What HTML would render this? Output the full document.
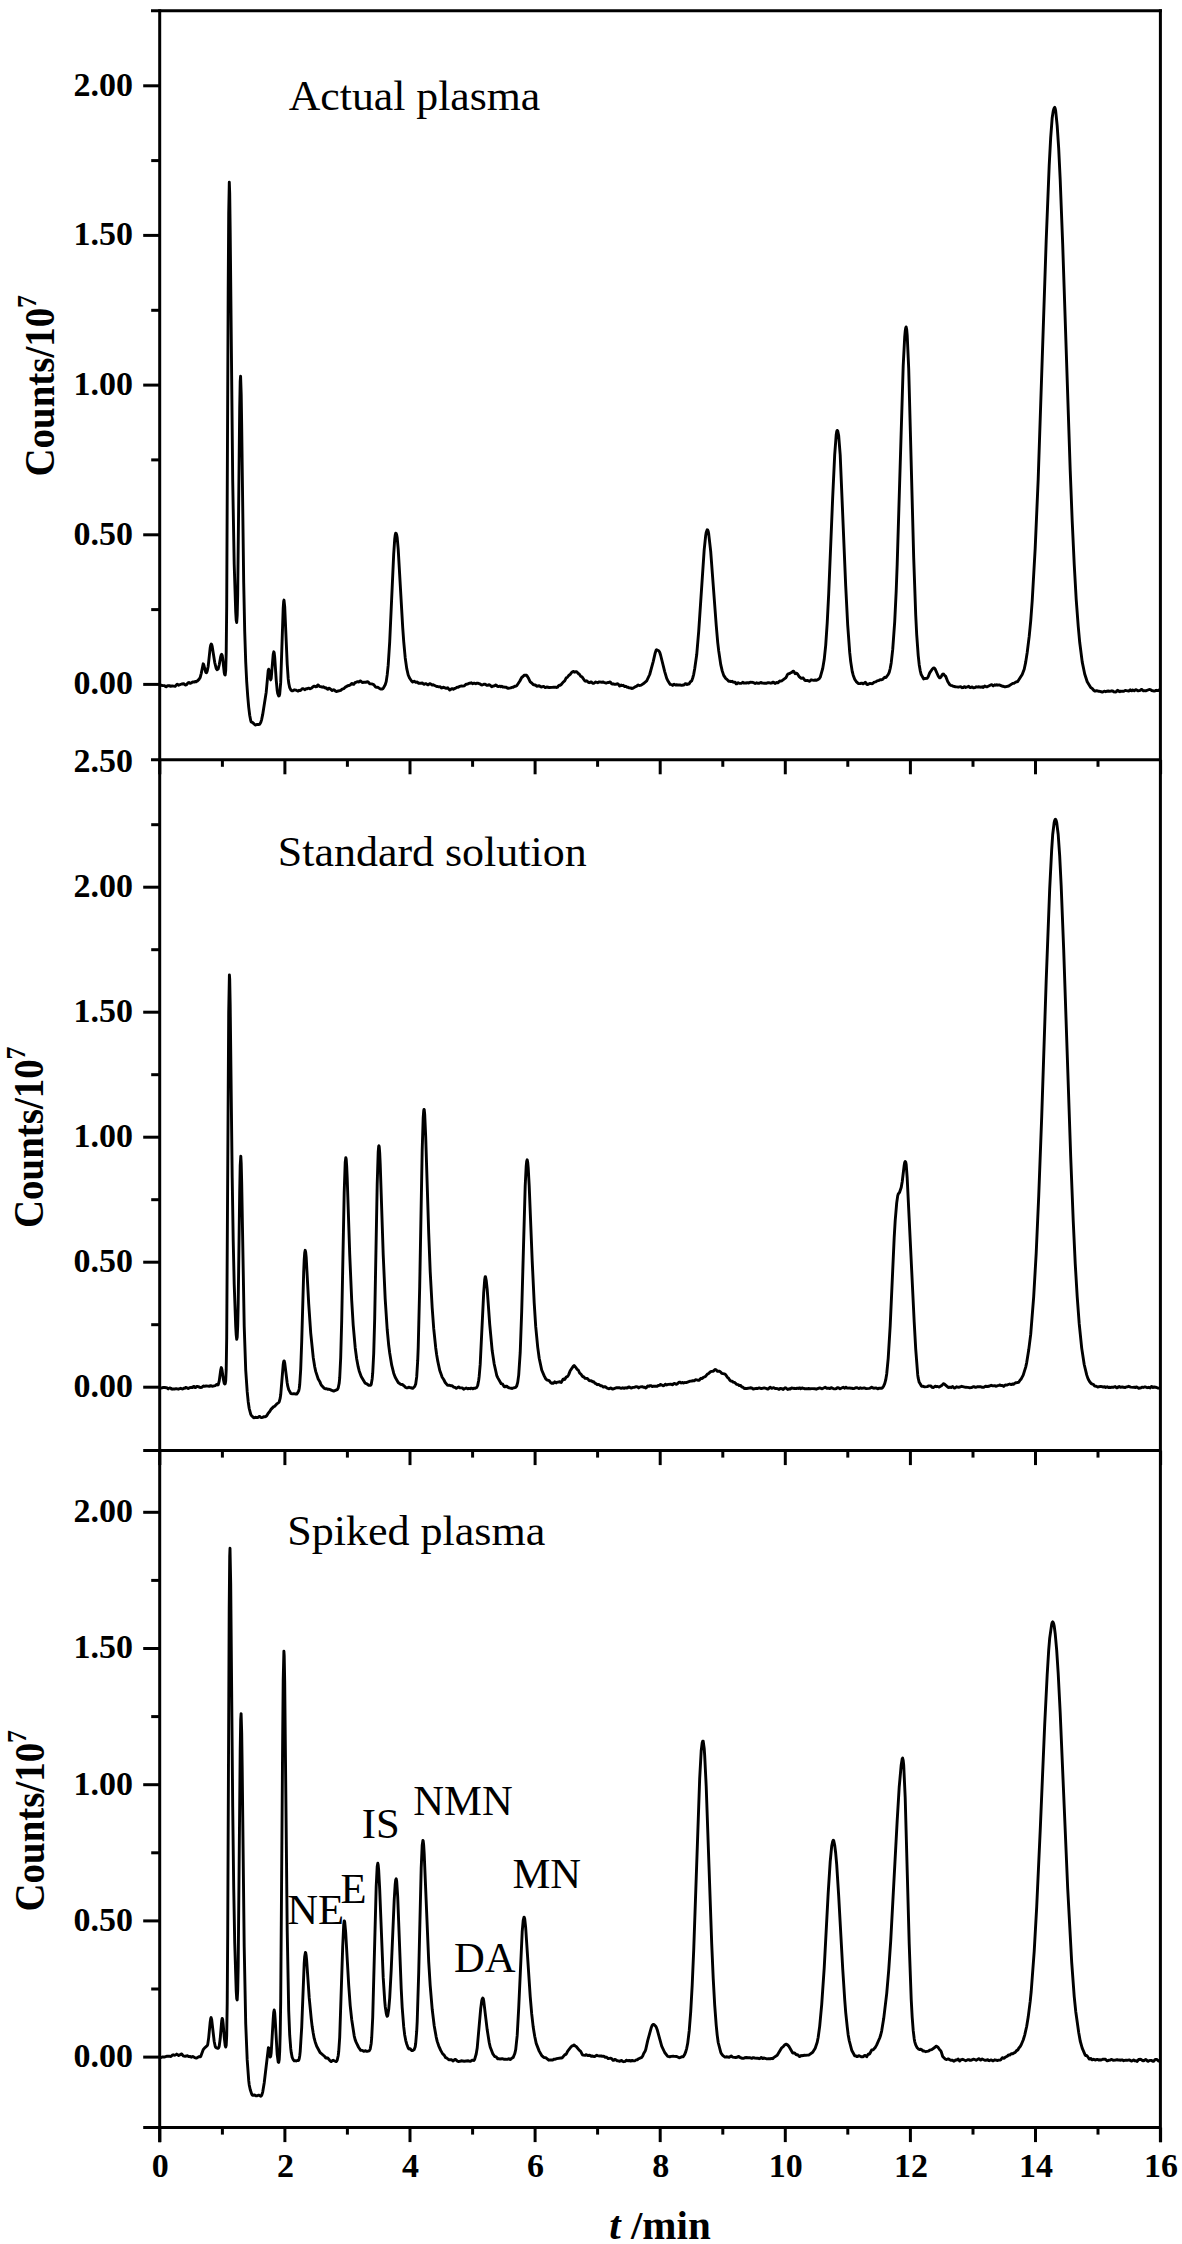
<!DOCTYPE html>
<html><head><meta charset="utf-8"><style>html,body{margin:0;padding:0;background:#fff;}svg{display:block;}</style></head>
<body>
<svg width="1182" height="2244" viewBox="0 0 1182 2244">
<rect width="100%" height="100%" fill="#fff"/>
<line x1="151.0" y1="10.7" x2="1161.9" y2="10.7" stroke="#000" stroke-width="3.0"/>
<line x1="159.7" y1="9.2" x2="159.7" y2="2142.3" stroke="#000" stroke-width="3.0"/>
<line x1="1160.4" y1="9.2" x2="1160.4" y2="2142.3" stroke="#000" stroke-width="3.0"/>
<line x1="151.0" y1="759.8" x2="1160.4" y2="759.8" stroke="#000" stroke-width="3.0"/>
<line x1="143.2" y1="1450.6" x2="1160.4" y2="1450.6" stroke="#000" stroke-width="3.0"/>
<line x1="143.2" y1="2127.6" x2="1160.4" y2="2127.6" stroke="#000" stroke-width="3.0"/>
<line x1="159.8" y1="759.8" x2="159.8" y2="774.3" stroke="#000" stroke-width="3.0"/>
<line x1="222.4" y1="759.8" x2="222.4" y2="766.8" stroke="#000" stroke-width="3.0"/>
<line x1="284.9" y1="759.8" x2="284.9" y2="774.3" stroke="#000" stroke-width="3.0"/>
<line x1="347.4" y1="759.8" x2="347.4" y2="766.8" stroke="#000" stroke-width="3.0"/>
<line x1="410.0" y1="759.8" x2="410.0" y2="774.3" stroke="#000" stroke-width="3.0"/>
<line x1="472.6" y1="759.8" x2="472.6" y2="766.8" stroke="#000" stroke-width="3.0"/>
<line x1="535.1" y1="759.8" x2="535.1" y2="774.3" stroke="#000" stroke-width="3.0"/>
<line x1="597.6" y1="759.8" x2="597.6" y2="766.8" stroke="#000" stroke-width="3.0"/>
<line x1="660.2" y1="759.8" x2="660.2" y2="774.3" stroke="#000" stroke-width="3.0"/>
<line x1="722.8" y1="759.8" x2="722.8" y2="766.8" stroke="#000" stroke-width="3.0"/>
<line x1="785.3" y1="759.8" x2="785.3" y2="774.3" stroke="#000" stroke-width="3.0"/>
<line x1="847.8" y1="759.8" x2="847.8" y2="766.8" stroke="#000" stroke-width="3.0"/>
<line x1="910.4" y1="759.8" x2="910.4" y2="774.3" stroke="#000" stroke-width="3.0"/>
<line x1="973.0" y1="759.8" x2="973.0" y2="766.8" stroke="#000" stroke-width="3.0"/>
<line x1="1035.5" y1="759.8" x2="1035.5" y2="774.3" stroke="#000" stroke-width="3.0"/>
<line x1="1098.0" y1="759.8" x2="1098.0" y2="766.8" stroke="#000" stroke-width="3.0"/>
<line x1="1160.6" y1="759.8" x2="1160.6" y2="774.3" stroke="#000" stroke-width="3.0"/>
<line x1="159.8" y1="1450.6" x2="159.8" y2="1465.1" stroke="#000" stroke-width="3.0"/>
<line x1="222.4" y1="1450.6" x2="222.4" y2="1457.6" stroke="#000" stroke-width="3.0"/>
<line x1="284.9" y1="1450.6" x2="284.9" y2="1465.1" stroke="#000" stroke-width="3.0"/>
<line x1="347.4" y1="1450.6" x2="347.4" y2="1457.6" stroke="#000" stroke-width="3.0"/>
<line x1="410.0" y1="1450.6" x2="410.0" y2="1465.1" stroke="#000" stroke-width="3.0"/>
<line x1="472.6" y1="1450.6" x2="472.6" y2="1457.6" stroke="#000" stroke-width="3.0"/>
<line x1="535.1" y1="1450.6" x2="535.1" y2="1465.1" stroke="#000" stroke-width="3.0"/>
<line x1="597.6" y1="1450.6" x2="597.6" y2="1457.6" stroke="#000" stroke-width="3.0"/>
<line x1="660.2" y1="1450.6" x2="660.2" y2="1465.1" stroke="#000" stroke-width="3.0"/>
<line x1="722.8" y1="1450.6" x2="722.8" y2="1457.6" stroke="#000" stroke-width="3.0"/>
<line x1="785.3" y1="1450.6" x2="785.3" y2="1465.1" stroke="#000" stroke-width="3.0"/>
<line x1="847.8" y1="1450.6" x2="847.8" y2="1457.6" stroke="#000" stroke-width="3.0"/>
<line x1="910.4" y1="1450.6" x2="910.4" y2="1465.1" stroke="#000" stroke-width="3.0"/>
<line x1="973.0" y1="1450.6" x2="973.0" y2="1457.6" stroke="#000" stroke-width="3.0"/>
<line x1="1035.5" y1="1450.6" x2="1035.5" y2="1465.1" stroke="#000" stroke-width="3.0"/>
<line x1="1098.0" y1="1450.6" x2="1098.0" y2="1457.6" stroke="#000" stroke-width="3.0"/>
<line x1="1160.6" y1="1450.6" x2="1160.6" y2="1465.1" stroke="#000" stroke-width="3.0"/>
<line x1="159.8" y1="2127.6" x2="159.8" y2="2142.1" stroke="#000" stroke-width="3.0"/>
<line x1="222.4" y1="2127.6" x2="222.4" y2="2134.6" stroke="#000" stroke-width="3.0"/>
<line x1="284.9" y1="2127.6" x2="284.9" y2="2142.1" stroke="#000" stroke-width="3.0"/>
<line x1="347.4" y1="2127.6" x2="347.4" y2="2134.6" stroke="#000" stroke-width="3.0"/>
<line x1="410.0" y1="2127.6" x2="410.0" y2="2142.1" stroke="#000" stroke-width="3.0"/>
<line x1="472.6" y1="2127.6" x2="472.6" y2="2134.6" stroke="#000" stroke-width="3.0"/>
<line x1="535.1" y1="2127.6" x2="535.1" y2="2142.1" stroke="#000" stroke-width="3.0"/>
<line x1="597.6" y1="2127.6" x2="597.6" y2="2134.6" stroke="#000" stroke-width="3.0"/>
<line x1="660.2" y1="2127.6" x2="660.2" y2="2142.1" stroke="#000" stroke-width="3.0"/>
<line x1="722.8" y1="2127.6" x2="722.8" y2="2134.6" stroke="#000" stroke-width="3.0"/>
<line x1="785.3" y1="2127.6" x2="785.3" y2="2142.1" stroke="#000" stroke-width="3.0"/>
<line x1="847.8" y1="2127.6" x2="847.8" y2="2134.6" stroke="#000" stroke-width="3.0"/>
<line x1="910.4" y1="2127.6" x2="910.4" y2="2142.1" stroke="#000" stroke-width="3.0"/>
<line x1="973.0" y1="2127.6" x2="973.0" y2="2134.6" stroke="#000" stroke-width="3.0"/>
<line x1="1035.5" y1="2127.6" x2="1035.5" y2="2142.1" stroke="#000" stroke-width="3.0"/>
<line x1="1098.0" y1="2127.6" x2="1098.0" y2="2134.6" stroke="#000" stroke-width="3.0"/>
<line x1="1160.6" y1="2127.6" x2="1160.6" y2="2142.1" stroke="#000" stroke-width="3.0"/>
<line x1="143.2" y1="684.4" x2="159.7" y2="684.4" stroke="#000" stroke-width="3.0"/>
<line x1="151.2" y1="609.6" x2="159.7" y2="609.6" stroke="#000" stroke-width="3.0"/>
<line x1="143.2" y1="534.8" x2="159.7" y2="534.8" stroke="#000" stroke-width="3.0"/>
<line x1="151.2" y1="459.9" x2="159.7" y2="459.9" stroke="#000" stroke-width="3.0"/>
<line x1="143.2" y1="385.1" x2="159.7" y2="385.1" stroke="#000" stroke-width="3.0"/>
<line x1="151.2" y1="310.3" x2="159.7" y2="310.3" stroke="#000" stroke-width="3.0"/>
<line x1="143.2" y1="235.4" x2="159.7" y2="235.4" stroke="#000" stroke-width="3.0"/>
<line x1="151.2" y1="160.6" x2="159.7" y2="160.6" stroke="#000" stroke-width="3.0"/>
<line x1="143.2" y1="85.8" x2="159.7" y2="85.8" stroke="#000" stroke-width="3.0"/>
<line x1="143.2" y1="1387.2" x2="159.7" y2="1387.2" stroke="#000" stroke-width="3.0"/>
<line x1="151.2" y1="1324.7" x2="159.7" y2="1324.7" stroke="#000" stroke-width="3.0"/>
<line x1="143.2" y1="1262.2" x2="159.7" y2="1262.2" stroke="#000" stroke-width="3.0"/>
<line x1="151.2" y1="1199.7" x2="159.7" y2="1199.7" stroke="#000" stroke-width="3.0"/>
<line x1="143.2" y1="1137.2" x2="159.7" y2="1137.2" stroke="#000" stroke-width="3.0"/>
<line x1="151.2" y1="1074.7" x2="159.7" y2="1074.7" stroke="#000" stroke-width="3.0"/>
<line x1="143.2" y1="1012.2" x2="159.7" y2="1012.2" stroke="#000" stroke-width="3.0"/>
<line x1="151.2" y1="949.7" x2="159.7" y2="949.7" stroke="#000" stroke-width="3.0"/>
<line x1="143.2" y1="887.2" x2="159.7" y2="887.2" stroke="#000" stroke-width="3.0"/>
<line x1="151.2" y1="824.7" x2="159.7" y2="824.7" stroke="#000" stroke-width="3.0"/>
<line x1="143.2" y1="2057.1" x2="159.7" y2="2057.1" stroke="#000" stroke-width="3.0"/>
<line x1="151.2" y1="1989.0" x2="159.7" y2="1989.0" stroke="#000" stroke-width="3.0"/>
<line x1="143.2" y1="1920.9" x2="159.7" y2="1920.9" stroke="#000" stroke-width="3.0"/>
<line x1="151.2" y1="1852.8" x2="159.7" y2="1852.8" stroke="#000" stroke-width="3.0"/>
<line x1="143.2" y1="1784.7" x2="159.7" y2="1784.7" stroke="#000" stroke-width="3.0"/>
<line x1="151.2" y1="1716.6" x2="159.7" y2="1716.6" stroke="#000" stroke-width="3.0"/>
<line x1="143.2" y1="1648.5" x2="159.7" y2="1648.5" stroke="#000" stroke-width="3.0"/>
<line x1="151.2" y1="1580.4" x2="159.7" y2="1580.4" stroke="#000" stroke-width="3.0"/>
<line x1="143.2" y1="1512.3" x2="159.7" y2="1512.3" stroke="#000" stroke-width="3.0"/>
<path d="M159.7,686.5 L161.2,685.2 L162.7,685.6 L164.2,685.6 L164.7,685.7 L165.7,686.7 L166.2,686.8 L167.2,685.9 L168.2,685.6 L169.2,685.6 L170.7,686.4 L172.2,685.9 L175.2,686.4 L176.7,684.6 L177.2,684.3 L178.7,685.2 L181.7,684.0 L183.7,683.7 L185.2,684.9 L185.7,685.1 L186.7,684.5 L188.2,682.6 L189.2,682.5 L190.2,683.4 L191.2,683.0 L192.7,681.9 L194.2,682.0 L195.7,681.5 L196.2,681.7 L197.2,681.1 L199.2,679.1 L200.2,677.4 L201.2,673.6 L203.2,663.8 L203.7,664.6 L205.7,672.2 L206.2,672.7 L206.7,672.4 L207.2,671.1 L208.2,666.2 L210.2,647.7 L210.7,645.1 L211.2,644.1 L211.7,644.6 L212.2,646.4 L214.7,662.3 L216.2,668.5 L217.2,669.7 L218.2,668.8 L219.2,665.0 L220.7,656.6 L221.2,654.9 L221.7,654.3 L222.2,655.3 L222.7,658.7 L224.2,672.4 L224.7,674.6 L225.2,674.9 L225.7,670.5 L226.2,652.9 L226.7,606.2 L228.2,289.1 L228.7,213.8 L229.3,182.2 L229.7,193.1 L230.2,232.2 L232.7,480.6 L234.2,564.3 L235.7,611.6 L236.2,620.1 L236.7,622.5 L237.2,615.4 L237.7,594.3 L239.7,407.6 L240.2,381.3 L240.6,376.2 L241.2,394.3 L241.7,426.9 L243.7,582.7 L244.7,631.3 L245.7,661.8 L246.7,681.6 L247.7,695.9 L248.7,707.1 L249.7,715.3 L250.7,720.6 L251.2,721.9 L252.7,722.6 L255.2,725.0 L255.7,725.0 L256.7,724.5 L258.7,724.5 L259.7,724.2 L260.7,722.6 L261.7,719.3 L262.7,714.4 L266.2,692.2 L268.2,670.6 L268.7,669.2 L269.2,671.1 L270.2,678.3 L270.7,679.9 L271.2,678.3 L273.2,654.4 L273.8,651.8 L274.2,652.8 L274.7,657.1 L276.2,679.8 L277.2,690.6 L277.7,693.4 L278.7,696.0 L279.2,695.8 L279.7,694.1 L280.7,682.4 L283.2,608.1 L283.7,601.1 L284.0,600.1 L284.7,606.6 L287.2,664.0 L288.2,678.7 L288.7,682.9 L289.7,687.7 L290.7,689.7 L291.7,690.8 L292.7,690.9 L294.2,689.8 L296.2,690.2 L297.7,691.0 L298.2,691.0 L299.2,690.3 L300.2,690.5 L300.7,690.4 L302.2,688.6 L303.2,688.6 L304.7,689.7 L306.2,688.7 L307.2,688.8 L308.2,688.2 L308.7,688.2 L310.2,688.8 L311.2,688.3 L313.2,686.6 L314.2,686.2 L315.2,686.5 L315.7,686.9 L316.7,686.7 L317.7,685.1 L318.2,684.9 L319.7,686.6 L321.2,686.7 L322.2,687.2 L323.2,686.7 L324.7,687.7 L325.2,687.6 L326.2,687.9 L326.7,688.8 L327.7,689.3 L328.2,688.6 L329.2,688.2 L332.2,690.5 L333.7,689.7 L334.7,690.3 L335.2,691.0 L336.2,691.5 L340.7,690.4 L342.2,689.1 L343.7,688.7 L345.7,686.7 L346.2,686.7 L347.7,685.7 L349.2,685.5 L350.2,685.0 L351.7,683.4 L352.2,683.6 L353.2,684.4 L353.7,684.4 L355.2,682.4 L356.2,682.3 L357.2,681.7 L358.7,682.0 L360.2,680.9 L360.7,681.1 L362.2,682.4 L362.7,682.5 L364.2,682.1 L365.7,682.4 L366.7,681.9 L367.7,681.7 L368.2,682.0 L369.7,683.7 L371.7,683.9 L373.7,684.6 L375.7,687.2 L376.7,687.4 L377.7,687.2 L380.2,688.9 L380.7,689.0 L382.2,689.0 L383.2,688.4 L385.2,684.7 L386.2,681.6 L387.2,674.9 L388.2,665.2 L389.7,641.9 L393.7,554.0 L394.7,539.3 L395.2,535.2 L395.7,533.2 L396.2,533.5 L396.7,534.9 L397.2,537.8 L398.2,549.2 L402.7,627.4 L403.7,641.4 L405.2,657.7 L406.7,668.4 L408.2,675.0 L409.7,678.3 L411.7,681.2 L412.7,682.0 L414.2,681.2 L415.7,682.3 L417.2,682.0 L418.7,683.4 L419.7,683.1 L421.2,683.3 L422.2,682.9 L423.7,684.3 L424.2,684.3 L425.2,683.6 L425.7,683.6 L427.7,684.8 L428.2,684.8 L429.7,683.7 L430.2,683.6 L432.2,685.1 L433.2,684.7 L436.7,686.5 L437.7,686.5 L438.7,686.9 L440.2,686.8 L441.2,687.8 L441.7,688.0 L443.2,687.2 L446.2,688.3 L447.7,687.8 L449.7,690.1 L451.7,688.7 L452.7,688.8 L453.2,689.3 L453.7,689.1 L454.7,688.5 L455.7,688.2 L457.2,687.1 L458.2,687.2 L459.7,686.4 L461.7,685.9 L462.7,686.1 L464.2,685.9 L466.2,684.2 L467.7,684.1 L469.2,683.2 L469.7,683.3 L471.2,682.8 L472.7,683.7 L474.2,683.1 L475.7,683.8 L476.7,683.2 L477.7,683.1 L479.7,683.8 L481.2,684.8 L482.2,685.0 L484.2,684.2 L484.7,684.4 L485.2,684.3 L486.7,685.2 L487.7,685.3 L489.2,684.7 L490.2,685.3 L491.7,686.8 L493.2,685.9 L493.7,686.0 L494.7,685.7 L495.7,685.0 L496.2,685.1 L497.2,686.2 L498.2,686.6 L499.7,686.1 L500.7,686.7 L501.7,686.3 L502.7,687.0 L504.2,687.0 L504.7,687.2 L506.2,687.1 L507.2,688.0 L508.2,688.3 L510.7,687.9 L512.2,687.2 L513.2,687.2 L514.7,686.3 L515.7,686.2 L516.7,685.7 L519.7,681.3 L521.7,677.5 L522.7,676.8 L524.2,675.2 L524.7,675.1 L525.2,675.3 L526.2,675.1 L526.7,675.4 L528.2,677.7 L530.2,681.9 L531.7,683.0 L533.2,684.6 L534.2,685.0 L534.7,684.8 L535.2,684.9 L536.7,686.2 L539.2,685.8 L540.7,686.8 L541.2,687.0 L543.7,686.4 L545.2,687.6 L546.7,687.0 L549.2,687.5 L552.2,687.4 L553.7,687.1 L554.2,687.3 L556.2,687.2 L556.7,687.5 L557.7,687.1 L558.2,686.2 L559.2,685.3 L560.2,685.2 L561.2,684.5 L563.2,682.1 L564.7,680.9 L566.2,677.9 L567.2,677.5 L568.7,675.5 L570.2,674.3 L571.7,672.4 L572.7,671.7 L573.7,671.5 L574.2,672.1 L574.7,672.2 L575.7,671.7 L576.2,671.6 L576.7,671.8 L578.7,673.9 L579.2,674.0 L580.7,676.2 L582.2,677.1 L584.7,680.8 L585.7,681.2 L586.7,680.8 L588.2,682.1 L589.2,682.6 L589.7,682.7 L590.7,681.9 L591.2,681.9 L592.7,683.3 L593.7,683.4 L595.7,682.0 L597.7,682.7 L599.2,681.9 L601.7,682.2 L603.2,682.0 L603.7,682.4 L606.2,683.1 L607.7,682.5 L608.7,682.6 L609.7,682.0 L610.2,682.0 L611.7,683.8 L612.2,684.0 L613.2,683.8 L614.7,684.3 L615.7,684.4 L617.2,683.7 L617.7,683.8 L618.2,684.0 L619.2,685.6 L619.7,686.0 L621.2,685.1 L621.7,685.6 L623.2,685.3 L624.7,686.5 L625.7,686.3 L627.2,687.2 L628.2,687.3 L629.2,687.9 L630.7,688.0 L632.2,688.5 L633.2,688.1 L635.2,686.8 L636.7,686.2 L637.7,685.2 L638.2,685.0 L639.2,685.5 L641.2,685.1 L643.2,683.8 L646.7,680.9 L649.7,674.5 L653.2,661.6 L655.2,652.9 L656.2,650.1 L656.7,649.8 L658.7,650.7 L659.7,652.3 L660.7,655.5 L664.7,671.6 L666.7,678.3 L667.7,680.4 L670.2,684.4 L671.7,684.7 L672.7,685.4 L674.2,684.2 L674.7,684.7 L675.7,685.0 L676.2,684.6 L677.7,685.0 L680.2,685.0 L681.7,685.3 L683.2,685.0 L683.7,685.1 L684.7,684.4 L685.2,683.7 L686.2,684.0 L686.7,684.5 L688.2,684.0 L688.7,684.1 L689.2,683.7 L690.2,682.0 L691.7,680.9 L692.7,678.0 L693.7,674.3 L694.7,668.8 L696.7,654.8 L698.7,631.3 L704.2,549.6 L705.7,535.4 L706.2,532.6 L707.2,529.8 L707.7,530.1 L708.2,531.3 L708.7,533.8 L710.7,551.3 L716.2,625.0 L717.7,642.3 L718.7,650.9 L720.7,664.4 L722.2,670.9 L723.7,675.4 L725.7,678.4 L727.2,679.6 L728.7,681.3 L730.2,681.3 L730.7,681.6 L732.2,681.3 L733.2,682.2 L734.2,682.4 L734.7,682.2 L735.2,682.4 L736.2,683.8 L736.7,683.9 L737.7,682.8 L738.2,682.7 L739.2,683.2 L741.2,683.4 L742.7,682.3 L743.7,683.0 L745.2,682.9 L746.2,683.1 L747.2,682.7 L748.7,683.1 L750.2,682.2 L751.2,682.4 L752.2,682.3 L753.7,682.7 L755.2,683.5 L756.7,682.8 L758.2,683.3 L759.2,683.3 L760.7,682.5 L762.2,683.0 L764.7,683.2 L766.7,683.2 L768.2,682.6 L768.7,682.6 L770.7,683.2 L771.7,683.0 L772.7,682.3 L773.7,682.2 L774.7,683.3 L775.2,683.5 L776.2,682.6 L776.7,682.5 L777.2,682.9 L777.7,682.9 L778.2,682.7 L778.7,681.9 L779.7,681.0 L780.7,681.2 L781.7,680.9 L785.7,677.9 L786.7,676.2 L787.2,674.9 L788.2,673.8 L789.7,673.5 L790.2,673.0 L791.7,672.4 L793.2,671.1 L793.7,671.3 L795.2,673.7 L796.7,673.2 L797.7,674.3 L799.2,676.7 L800.2,677.5 L801.2,678.2 L802.2,678.2 L802.7,677.9 L803.2,678.0 L804.7,680.1 L805.7,680.6 L807.2,680.4 L809.2,681.2 L809.7,681.2 L811.2,679.8 L813.7,680.3 L815.2,680.0 L816.7,680.2 L817.2,680.0 L819.2,678.8 L820.2,677.3 L822.7,668.5 L824.2,659.6 L825.7,645.3 L827.2,623.1 L828.7,593.9 L832.7,497.0 L834.7,454.6 L836.2,434.8 L836.7,431.6 L837.2,430.4 L837.7,430.8 L838.7,435.8 L840.2,455.0 L845.7,585.9 L847.7,625.1 L849.7,652.4 L850.7,661.6 L852.2,671.4 L853.2,675.2 L854.7,679.2 L856.2,681.6 L858.2,683.4 L858.7,683.6 L860.2,683.5 L861.7,683.1 L863.2,683.9 L865.2,682.3 L865.7,682.5 L866.7,684.3 L867.2,684.6 L868.2,684.3 L869.7,683.4 L872.2,683.7 L872.7,683.5 L874.2,682.1 L875.7,681.9 L877.2,680.8 L879.2,680.3 L880.2,679.6 L881.7,679.7 L882.7,679.3 L884.7,677.3 L885.7,677.5 L886.2,677.2 L888.2,674.5 L889.2,672.3 L890.2,668.5 L891.2,662.9 L892.7,649.7 L894.7,621.9 L896.2,591.0 L897.2,564.0 L903.2,365.7 L904.7,337.0 L905.2,331.3 L905.7,328.0 L906.1,326.9 L906.7,329.6 L907.2,335.3 L908.7,368.7 L913.7,557.9 L915.7,614.8 L916.7,634.6 L918.2,655.3 L919.2,664.7 L920.2,670.6 L921.2,674.6 L923.7,678.9 L924.7,678.5 L927.2,678.2 L928.2,676.7 L929.7,672.9 L932.2,669.2 L933.2,668.2 L934.2,667.9 L935.2,669.2 L938.2,676.0 L939.2,677.6 L939.7,677.9 L940.2,677.8 L941.2,676.6 L942.2,674.7 L942.7,674.1 L943.2,674.0 L943.7,674.2 L944.2,675.0 L945.7,676.4 L947.7,681.5 L949.7,684.6 L950.7,685.3 L952.2,685.7 L953.2,686.3 L954.7,686.5 L955.2,686.9 L956.7,686.9 L958.2,687.2 L960.7,686.7 L962.2,687.7 L963.2,687.5 L964.2,686.8 L964.7,686.8 L965.7,687.5 L968.7,686.3 L970.2,687.6 L972.2,687.0 L973.7,687.9 L974.7,687.7 L976.2,686.8 L977.2,687.0 L978.2,686.8 L981.2,687.2 L982.2,686.8 L983.2,687.5 L984.7,686.0 L986.2,686.8 L987.2,686.8 L991.2,684.7 L991.7,684.7 L993.2,685.9 L994.7,684.8 L995.7,685.2 L996.7,684.7 L997.2,684.8 L997.7,685.2 L999.2,684.9 L1002.2,686.2 L1002.7,686.1 L1004.2,686.7 L1005.2,686.8 L1008.7,686.0 L1012.7,683.4 L1014.2,683.2 L1015.7,682.1 L1017.7,681.5 L1022.2,674.5 L1024.2,669.2 L1025.7,662.1 L1027.2,652.5 L1029.2,636.4 L1030.7,621.1 L1032.2,601.0 L1035.2,548.2 L1038.2,479.0 L1046.2,240.2 L1049.2,165.4 L1050.7,137.3 L1052.2,117.7 L1053.2,111.1 L1053.7,109.3 L1054.4,107.6 L1054.7,107.4 L1055.2,108.6 L1055.7,111.1 L1057.2,125.8 L1058.7,148.6 L1060.2,179.8 L1062.7,244.6 L1070.2,470.1 L1072.2,521.0 L1074.2,564.0 L1076.2,599.4 L1078.2,626.0 L1079.7,642.3 L1082.2,661.9 L1084.7,674.0 L1087.2,681.8 L1090.7,687.6 L1092.2,688.5 L1093.7,690.3 L1094.7,691.0 L1095.7,691.1 L1096.2,690.8 L1097.2,690.8 L1098.2,691.2 L1098.7,691.2 L1102.2,692.0 L1102.7,692.0 L1104.2,691.2 L1105.7,691.7 L1106.7,691.2 L1108.2,691.0 L1109.7,691.4 L1111.7,690.8 L1112.7,691.0 L1113.7,691.7 L1115.7,692.0 L1116.2,691.8 L1117.2,690.5 L1117.7,690.3 L1118.2,690.5 L1119.2,691.6 L1119.7,691.7 L1120.7,691.1 L1121.7,691.4 L1122.7,691.2 L1123.7,691.4 L1125.2,690.4 L1128.7,691.1 L1130.2,689.8 L1131.2,690.7 L1131.7,690.8 L1132.7,690.0 L1134.2,690.8 L1135.7,689.7 L1136.2,689.7 L1138.2,690.9 L1140.2,690.4 L1141.2,689.5 L1141.7,689.4 L1143.2,690.8 L1143.7,690.9 L1144.2,690.6 L1145.2,690.6 L1145.7,690.9 L1149.2,689.5 L1150.2,689.6 L1151.7,690.5 L1154.2,691.1 L1155.2,690.9 L1155.7,690.5 L1156.7,690.3 L1157.2,690.6 L1158.2,690.6 L1160.2,689.2" fill="none" stroke="#000" stroke-width="2.9" stroke-linejoin="round"/>
<path d="M159.7,1387.7 L160.7,1388.1 L163.2,1387.5 L164.7,1387.4 L165.7,1387.7 L166.7,1387.7 L168.2,1388.9 L169.7,1387.9 L170.7,1388.1 L171.7,1389.1 L172.2,1389.2 L173.2,1388.9 L174.7,1389.0 L176.2,1388.7 L178.2,1389.2 L180.7,1388.3 L182.2,1389.0 L182.7,1388.9 L183.7,1388.3 L184.7,1388.3 L185.7,1387.5 L186.2,1387.4 L188.2,1388.6 L189.7,1387.7 L191.2,1387.3 L192.2,1387.6 L192.7,1387.4 L193.7,1386.4 L194.7,1386.9 L195.2,1387.6 L195.7,1387.5 L196.7,1386.5 L197.2,1386.4 L199.2,1387.0 L199.7,1387.4 L200.7,1387.5 L201.7,1387.3 L203.2,1386.1 L203.7,1386.0 L204.7,1386.4 L206.2,1385.9 L208.2,1386.1 L209.2,1386.4 L210.7,1385.6 L212.2,1386.3 L215.2,1385.6 L216.7,1384.5 L217.7,1385.0 L218.2,1384.8 L219.2,1381.1 L220.7,1370.1 L221.3,1367.6 L221.7,1368.4 L222.2,1371.1 L223.2,1378.4 L224.2,1383.3 L224.7,1384.0 L225.2,1383.7 L225.7,1381.0 L226.2,1369.9 L226.7,1337.6 L228.7,1012.2 L229.4,974.9 L229.7,979.0 L230.2,1006.1 L232.2,1177.8 L233.2,1239.9 L234.2,1284.1 L235.7,1326.2 L236.2,1334.9 L236.7,1339.3 L237.2,1337.2 L237.7,1325.9 L238.2,1303.3 L239.7,1191.4 L240.2,1165.7 L240.8,1156.2 L241.2,1163.0 L241.7,1183.4 L244.2,1326.1 L245.7,1369.8 L247.2,1391.7 L248.2,1401.7 L249.2,1408.5 L250.7,1414.2 L251.2,1415.2 L253.7,1417.8 L255.2,1417.3 L257.7,1417.6 L259.2,1416.5 L259.7,1416.5 L260.7,1417.3 L261.7,1417.6 L262.7,1417.4 L263.7,1416.6 L264.7,1416.8 L265.7,1416.5 L266.7,1415.8 L268.2,1413.2 L269.7,1411.6 L271.2,1409.1 L273.7,1406.6 L274.7,1406.3 L277.2,1403.6 L278.7,1402.6 L279.2,1401.8 L280.2,1398.1 L280.7,1394.8 L283.2,1364.6 L283.7,1361.6 L284.0,1360.9 L284.2,1361.0 L284.7,1362.8 L287.2,1383.0 L287.7,1385.9 L288.7,1389.6 L290.7,1393.3 L291.2,1393.7 L292.2,1393.9 L293.7,1393.6 L295.7,1394.0 L296.7,1394.0 L297.7,1392.8 L298.7,1390.9 L299.2,1388.7 L299.7,1384.8 L300.7,1369.3 L301.7,1341.7 L303.7,1271.7 L304.2,1259.9 L304.7,1252.8 L305.2,1250.3 L305.7,1252.3 L306.2,1257.4 L308.7,1303.7 L310.7,1332.8 L313.2,1357.2 L314.7,1366.7 L315.7,1371.4 L318.2,1379.0 L319.7,1381.4 L320.7,1383.9 L321.2,1384.9 L324.2,1388.2 L325.2,1388.7 L326.7,1388.7 L327.7,1389.3 L329.2,1389.3 L330.2,1389.6 L331.2,1390.2 L333.7,1391.1 L337.2,1389.7 L338.2,1388.0 L339.2,1383.1 L339.7,1378.0 L340.7,1357.6 L341.7,1320.7 L344.2,1192.3 L345.2,1162.5 L345.8,1157.6 L346.2,1159.2 L346.7,1166.5 L347.2,1178.0 L349.7,1253.9 L351.7,1300.3 L353.2,1325.1 L355.2,1347.7 L356.7,1359.0 L358.2,1366.9 L359.2,1370.9 L361.2,1376.4 L365.2,1383.2 L366.7,1383.8 L368.7,1385.2 L370.7,1385.2 L371.2,1384.4 L372.2,1378.7 L372.7,1373.2 L373.7,1353.7 L374.7,1318.2 L377.2,1184.0 L378.2,1151.8 L378.7,1146.2 L378.9,1145.8 L379.2,1146.7 L379.7,1152.8 L380.2,1163.7 L383.2,1254.5 L385.2,1299.1 L387.2,1329.5 L388.7,1345.3 L389.7,1353.0 L391.7,1365.2 L393.7,1373.2 L395.2,1377.2 L398.2,1382.5 L400.7,1384.4 L401.7,1384.5 L402.2,1384.4 L403.7,1385.7 L404.2,1385.9 L405.7,1387.5 L406.7,1387.9 L407.7,1387.8 L408.7,1387.2 L409.2,1387.2 L410.2,1387.7 L411.2,1387.6 L412.2,1388.3 L412.7,1388.3 L414.7,1386.5 L415.7,1384.0 L416.7,1376.9 L417.7,1360.7 L418.2,1347.9 L419.7,1286.5 L422.2,1149.6 L423.2,1117.6 L423.7,1110.8 L424.0,1109.4 L424.2,1109.5 L424.7,1114.3 L425.7,1137.0 L428.7,1232.9 L430.2,1271.6 L432.2,1308.0 L433.7,1328.4 L435.7,1347.7 L436.7,1355.0 L437.7,1360.9 L439.7,1370.3 L442.2,1377.3 L443.7,1379.5 L445.2,1382.5 L447.2,1384.9 L447.7,1385.2 L448.2,1385.4 L449.7,1385.3 L450.7,1385.7 L452.2,1385.7 L453.7,1387.1 L454.7,1387.3 L456.2,1388.2 L456.7,1388.2 L458.2,1387.1 L458.7,1387.0 L459.7,1387.7 L462.2,1387.9 L463.7,1389.3 L466.2,1388.0 L467.7,1388.8 L468.7,1388.4 L470.2,1388.7 L471.2,1388.1 L471.7,1388.1 L472.7,1388.8 L474.2,1388.2 L475.2,1388.3 L476.7,1387.5 L477.7,1385.4 L478.7,1380.3 L479.2,1376.2 L480.2,1364.4 L483.7,1292.5 L484.7,1279.6 L485.2,1276.8 L485.5,1276.8 L486.2,1280.2 L487.2,1289.3 L489.7,1324.1 L492.2,1350.8 L494.2,1364.0 L496.7,1375.3 L497.7,1377.6 L501.2,1383.7 L502.7,1384.2 L504.2,1386.7 L504.7,1386.9 L505.2,1386.8 L505.7,1386.2 L506.7,1386.1 L507.7,1387.1 L509.2,1387.9 L511.2,1388.2 L512.2,1388.5 L513.7,1387.8 L515.2,1387.5 L515.7,1387.2 L516.7,1386.0 L517.7,1382.4 L518.7,1375.1 L520.2,1352.7 L521.7,1311.2 L525.2,1185.7 L526.2,1166.1 L526.7,1161.2 L527.2,1159.8 L527.7,1162.2 L528.2,1167.7 L529.2,1185.8 L532.2,1260.9 L534.2,1302.9 L535.7,1326.4 L537.7,1347.1 L539.2,1358.3 L541.7,1370.0 L544.2,1375.9 L545.7,1378.7 L546.7,1379.8 L549.2,1380.7 L550.7,1382.6 L551.7,1383.3 L552.7,1383.0 L553.2,1383.2 L554.2,1382.5 L554.7,1381.8 L556.2,1382.9 L557.2,1382.1 L558.7,1382.0 L559.7,1381.7 L561.2,1382.5 L563.2,1379.1 L563.7,1379.0 L564.2,1379.5 L564.7,1379.4 L566.2,1377.1 L567.7,1376.4 L568.7,1374.6 L570.2,1370.8 L573.2,1366.4 L574.1,1365.5 L576.2,1367.9 L577.2,1369.5 L578.2,1370.0 L579.7,1373.2 L581.2,1374.4 L582.2,1376.0 L583.2,1376.8 L583.7,1376.8 L585.2,1378.4 L587.2,1378.5 L588.2,1379.3 L589.2,1380.6 L590.2,1380.8 L591.2,1380.7 L592.7,1381.7 L593.7,1381.8 L595.2,1383.4 L595.7,1383.4 L597.2,1384.7 L598.7,1384.4 L600.7,1385.9 L601.7,1385.8 L602.2,1386.0 L603.2,1387.0 L603.7,1387.1 L604.7,1386.7 L605.2,1386.7 L606.7,1387.9 L608.7,1388.8 L609.7,1388.6 L610.7,1388.0 L611.2,1388.1 L612.2,1389.0 L612.7,1389.1 L616.7,1387.7 L619.7,1387.8 L621.2,1388.3 L622.7,1387.8 L624.2,1388.4 L625.2,1387.9 L626.2,1387.8 L626.7,1388.1 L627.7,1387.8 L628.2,1387.2 L629.2,1386.9 L630.2,1387.7 L631.2,1388.0 L633.2,1387.4 L634.2,1387.4 L636.2,1386.6 L637.7,1386.9 L638.7,1387.9 L640.2,1386.9 L642.2,1386.7 L643.7,1387.3 L644.2,1387.1 L645.7,1388.0 L646.2,1387.8 L647.7,1386.0 L649.2,1386.2 L650.2,1385.6 L650.7,1385.6 L652.2,1386.5 L653.7,1386.1 L657.2,1386.2 L658.2,1385.5 L659.7,1385.3 L660.2,1384.6 L660.7,1384.4 L663.2,1385.8 L663.7,1385.7 L665.2,1384.3 L665.7,1384.3 L666.2,1384.8 L666.7,1385.0 L668.2,1384.4 L670.7,1384.1 L672.2,1384.8 L672.7,1384.6 L673.7,1383.7 L674.7,1383.4 L676.2,1384.3 L677.2,1383.9 L679.2,1382.1 L679.7,1382.1 L681.2,1383.0 L682.7,1382.4 L683.7,1383.0 L684.7,1382.5 L686.2,1382.6 L690.2,1381.1 L691.7,1381.1 L692.7,1380.6 L694.2,1380.8 L695.7,1379.8 L696.7,1379.9 L698.2,1380.3 L699.2,1380.2 L700.7,1378.6 L701.2,1378.3 L702.2,1378.5 L703.7,1377.1 L704.7,1376.9 L705.7,1376.2 L707.2,1374.3 L708.7,1373.4 L710.7,1371.7 L711.7,1371.4 L712.7,1371.4 L713.7,1370.9 L714.2,1370.2 L715.2,1369.5 L716.2,1369.9 L717.2,1371.2 L719.7,1371.3 L720.7,1372.1 L721.7,1373.3 L724.2,1373.8 L725.2,1374.3 L726.2,1375.4 L727.2,1377.1 L728.7,1378.4 L729.7,1380.0 L730.7,1381.1 L731.7,1381.1 L732.7,1381.6 L733.2,1382.2 L734.7,1382.5 L736.7,1384.4 L738.2,1384.7 L739.2,1385.5 L739.7,1385.4 L740.7,1385.5 L741.2,1386.3 L742.2,1387.1 L742.7,1387.0 L744.2,1388.4 L744.7,1388.5 L745.7,1388.3 L746.7,1388.5 L750.2,1387.8 L751.7,1388.0 L753.2,1389.0 L756.2,1388.3 L757.2,1388.6 L759.2,1387.9 L761.2,1388.6 L764.2,1387.9 L766.7,1388.6 L767.7,1389.1 L768.2,1389.0 L769.2,1387.9 L770.2,1387.2 L771.7,1388.3 L773.7,1387.6 L775.2,1388.6 L775.7,1388.4 L777.7,1388.6 L778.7,1389.4 L779.2,1389.3 L780.2,1388.4 L780.7,1388.4 L781.7,1388.6 L783.2,1389.4 L784.7,1388.0 L785.7,1387.8 L787.7,1389.5 L789.2,1388.7 L790.2,1389.0 L791.7,1388.0 L792.7,1388.1 L793.2,1388.4 L794.2,1388.5 L794.7,1388.3 L796.2,1388.6 L797.2,1388.1 L798.2,1388.5 L798.7,1388.4 L799.2,1387.9 L799.7,1387.9 L800.2,1388.1 L800.7,1388.7 L801.7,1388.4 L802.2,1387.9 L803.7,1388.5 L804.2,1388.4 L804.7,1388.8 L806.2,1388.7 L806.7,1388.9 L808.7,1388.5 L810.2,1388.9 L811.2,1388.6 L812.7,1388.6 L814.7,1388.7 L816.2,1389.2 L819.7,1387.9 L822.2,1388.8 L825.2,1387.3 L826.7,1388.2 L828.7,1388.2 L829.7,1388.5 L830.2,1388.5 L831.2,1387.6 L833.7,1388.8 L835.2,1388.9 L836.2,1388.6 L836.7,1388.1 L837.7,1387.6 L838.7,1387.9 L839.7,1388.7 L840.2,1388.7 L843.2,1387.3 L844.7,1388.2 L845.7,1387.3 L846.2,1387.3 L847.2,1388.1 L850.2,1388.0 L850.7,1388.2 L852.2,1388.2 L852.7,1388.5 L853.7,1388.6 L856.2,1387.7 L857.2,1387.8 L858.7,1388.5 L859.7,1388.3 L860.2,1387.8 L861.7,1388.4 L864.2,1387.9 L866.2,1388.6 L869.2,1388.4 L870.2,1388.2 L871.2,1387.3 L871.7,1387.2 L872.2,1387.3 L872.7,1387.8 L873.7,1388.2 L876.2,1387.9 L877.7,1388.8 L879.2,1388.2 L881.7,1388.2 L882.7,1387.5 L883.7,1385.9 L884.7,1383.7 L885.7,1379.9 L886.7,1374.0 L888.2,1358.3 L890.2,1325.6 L894.2,1237.4 L895.2,1220.5 L896.7,1202.9 L897.7,1195.9 L898.2,1194.2 L899.5,1192.4 L901.2,1187.5 L902.2,1181.7 L904.2,1165.3 L904.7,1162.4 L905.2,1161.5 L905.7,1162.1 L906.2,1164.6 L907.2,1178.2 L914.2,1322.0 L915.7,1348.9 L917.7,1374.7 L918.2,1378.2 L919.2,1382.3 L920.7,1384.6 L921.2,1385.8 L921.7,1386.3 L922.2,1386.4 L923.2,1386.3 L924.7,1386.9 L927.2,1386.6 L928.7,1385.9 L930.7,1385.9 L932.2,1387.4 L933.2,1387.6 L935.2,1386.2 L936.7,1386.7 L937.7,1386.5 L939.2,1387.1 L941.7,1385.6 L943.2,1383.9 L943.7,1383.7 L944.7,1384.3 L948.2,1387.4 L948.7,1387.5 L949.7,1387.2 L950.7,1387.2 L951.2,1387.5 L952.7,1386.6 L954.2,1388.0 L954.7,1388.1 L956.7,1386.8 L958.7,1387.4 L961.7,1386.3 L965.7,1387.3 L967.7,1387.4 L969.2,1387.7 L971.7,1387.6 L973.2,1386.7 L974.2,1386.6 L975.2,1387.3 L976.2,1387.3 L977.7,1386.6 L978.7,1386.8 L980.2,1386.6 L981.7,1387.2 L982.2,1387.1 L983.7,1387.4 L985.2,1386.3 L987.7,1386.5 L989.7,1386.0 L991.2,1385.3 L992.7,1385.8 L993.7,1385.9 L994.7,1385.7 L996.2,1386.3 L997.7,1385.6 L999.2,1385.4 L999.7,1385.0 L1000.7,1385.1 L1001.2,1385.6 L1001.7,1385.4 L1002.7,1385.7 L1003.7,1386.4 L1005.2,1385.0 L1006.7,1385.1 L1009.7,1384.0 L1011.2,1384.6 L1012.7,1383.9 L1013.2,1384.3 L1014.2,1383.9 L1014.7,1383.3 L1015.7,1382.8 L1018.7,1382.3 L1020.2,1380.0 L1021.2,1378.9 L1023.2,1375.1 L1025.7,1367.1 L1026.7,1362.6 L1028.7,1350.1 L1030.7,1334.4 L1033.7,1296.6 L1036.2,1253.1 L1038.7,1196.5 L1041.7,1116.9 L1046.2,980.4 L1049.7,888.6 L1051.7,849.4 L1052.7,834.5 L1054.2,822.3 L1054.7,820.4 L1055.2,819.4 L1055.5,819.3 L1056.2,820.5 L1056.7,822.5 L1058.2,834.5 L1059.7,856.2 L1061.2,886.2 L1063.7,950.1 L1070.7,1156.7 L1073.2,1220.2 L1075.2,1263.1 L1077.2,1296.6 L1079.2,1323.7 L1081.7,1348.1 L1084.2,1364.5 L1086.7,1374.9 L1087.7,1377.9 L1088.7,1380.1 L1089.7,1381.7 L1091.2,1383.5 L1091.7,1383.9 L1093.2,1384.3 L1094.7,1386.1 L1096.2,1386.2 L1097.7,1387.0 L1100.7,1386.4 L1103.2,1387.0 L1104.7,1386.8 L1105.7,1387.5 L1107.2,1386.8 L1108.7,1387.6 L1109.2,1387.3 L1110.7,1387.5 L1111.2,1387.2 L1113.2,1387.3 L1115.2,1386.5 L1116.7,1387.8 L1117.7,1387.5 L1118.2,1386.9 L1119.2,1386.5 L1120.7,1387.4 L1122.2,1386.9 L1123.2,1387.3 L1125.2,1387.5 L1126.2,1386.9 L1127.2,1386.9 L1128.7,1386.3 L1130.7,1387.1 L1133.2,1387.4 L1134.2,1387.2 L1135.2,1387.5 L1136.7,1387.0 L1138.7,1388.2 L1141.2,1387.8 L1141.7,1387.3 L1142.7,1387.3 L1143.2,1387.5 L1144.7,1386.9 L1145.7,1387.0 L1147.2,1387.7 L1148.7,1387.3 L1150.2,1387.9 L1151.2,1386.6 L1151.7,1386.5 L1152.7,1387.5 L1154.2,1387.0 L1156.7,1387.5 L1158.2,1388.2 L1159.7,1387.9 L1160.2,1387.5" fill="none" stroke="#000" stroke-width="2.9" stroke-linejoin="round"/>
<path d="M159.7,2058.1 L162.2,2057.0 L163.2,2056.9 L164.2,2057.1 L167.2,2056.1 L167.7,2056.3 L169.2,2056.2 L170.7,2056.5 L171.2,2056.3 L172.7,2054.9 L173.2,2054.8 L174.2,2055.2 L175.2,2055.1 L176.7,2054.1 L178.7,2055.5 L181.7,2053.9 L183.2,2055.8 L183.7,2056.0 L185.2,2056.2 L187.7,2055.8 L188.7,2056.6 L189.2,2056.7 L190.2,2056.4 L191.2,2057.2 L192.7,2056.5 L193.2,2056.6 L194.7,2057.7 L196.2,2058.1 L196.7,2058.0 L199.2,2056.6 L200.2,2056.8 L200.7,2056.5 L203.2,2049.7 L204.7,2047.8 L207.2,2045.7 L207.7,2044.6 L208.7,2037.6 L210.2,2021.9 L210.7,2018.6 L211.1,2017.6 L211.7,2019.7 L214.2,2041.5 L215.2,2046.3 L215.7,2047.3 L216.7,2048.0 L217.7,2048.4 L218.2,2048.3 L218.7,2047.8 L219.2,2046.2 L220.2,2038.8 L221.7,2020.9 L222.2,2018.4 L222.7,2019.6 L223.2,2024.1 L224.2,2036.9 L225.2,2045.6 L225.7,2047.1 L226.2,2045.4 L226.7,2035.4 L227.2,2004.0 L227.7,1934.9 L229.2,1608.3 L229.7,1556.6 L230.0,1548.3 L230.7,1583.4 L232.7,1807.0 L233.7,1886.9 L234.7,1942.2 L236.2,1990.6 L236.7,1998.7 L237.2,2000.0 L237.7,1990.4 L238.2,1965.4 L240.2,1750.0 L240.7,1719.7 L241.1,1713.6 L241.7,1732.8 L242.2,1769.0 L244.2,1946.7 L245.7,2023.3 L247.2,2059.9 L248.7,2080.4 L249.2,2084.7 L250.2,2089.5 L251.7,2094.1 L252.2,2094.9 L252.7,2095.2 L254.7,2095.0 L256.2,2095.9 L257.2,2095.8 L258.7,2095.1 L260.7,2096.2 L261.2,2096.1 L261.7,2095.3 L262.7,2092.1 L264.2,2083.0 L268.4,2047.7 L268.7,2047.8 L270.2,2057.0 L270.7,2056.4 L271.2,2052.9 L273.2,2019.0 L273.7,2012.3 L274.2,2010.0 L274.7,2012.7 L275.2,2019.6 L277.2,2054.5 L278.2,2062.0 L278.7,2062.4 L279.2,2059.8 L279.7,2051.3 L280.2,2033.8 L280.7,2001.6 L282.7,1733.8 L283.2,1680.2 L283.9,1651.1 L284.2,1655.5 L284.7,1682.3 L287.2,1930.0 L288.7,2010.5 L289.7,2035.2 L290.7,2048.2 L291.2,2052.4 L292.2,2057.5 L293.2,2059.6 L294.2,2060.8 L295.7,2060.8 L296.2,2061.0 L297.2,2060.5 L298.2,2060.5 L298.7,2060.2 L299.2,2058.8 L299.7,2056.0 L300.2,2051.6 L301.7,2027.3 L304.2,1963.0 L304.7,1956.4 L305.4,1952.5 L305.7,1952.7 L306.2,1955.8 L306.7,1961.0 L309.2,1997.7 L311.2,2018.3 L312.2,2026.8 L313.2,2033.1 L314.2,2038.4 L315.2,2041.9 L316.7,2046.2 L320.2,2052.7 L324.7,2056.5 L325.7,2057.8 L326.2,2058.2 L327.2,2057.9 L327.7,2058.0 L329.7,2060.3 L331.2,2061.6 L332.7,2060.4 L333.2,2060.3 L335.7,2061.5 L336.2,2061.5 L336.7,2061.1 L337.2,2060.1 L338.2,2055.7 L338.7,2051.8 L339.7,2037.4 L342.7,1946.5 L343.7,1925.0 L344.2,1920.9 L344.4,1921.0 L344.7,1921.9 L345.7,1932.6 L348.7,1985.0 L350.2,2005.6 L351.7,2019.5 L354.2,2035.8 L355.2,2039.9 L356.2,2042.4 L358.7,2047.5 L360.7,2050.3 L362.2,2050.4 L363.7,2051.4 L365.2,2050.7 L366.7,2051.3 L367.2,2051.3 L369.2,2050.9 L370.2,2049.1 L371.2,2043.4 L371.7,2037.7 L372.7,2017.7 L376.2,1886.4 L377.2,1866.4 L377.8,1863.2 L378.2,1865.1 L378.7,1870.5 L379.7,1889.5 L383.2,1977.4 L384.7,2000.6 L385.2,2006.2 L386.2,2013.1 L386.7,2015.3 L387.2,2016.3 L387.7,2015.8 L388.7,2009.6 L389.7,1998.0 L391.2,1970.1 L394.2,1900.0 L395.2,1884.1 L395.7,1879.9 L396.2,1878.8 L396.7,1881.3 L397.7,1896.9 L401.2,1988.5 L402.2,2007.6 L403.7,2026.7 L404.7,2035.0 L405.7,2040.3 L406.7,2044.0 L408.2,2047.9 L408.7,2048.8 L409.2,2049.1 L410.2,2048.8 L411.7,2050.6 L412.7,2050.5 L414.2,2049.6 L415.2,2046.8 L415.7,2043.3 L416.7,2031.2 L417.2,2021.5 L418.7,1973.0 L421.2,1867.9 L422.2,1845.1 L422.9,1840.4 L423.2,1841.0 L423.7,1845.5 L424.2,1853.8 L428.7,1961.4 L430.2,1985.7 L432.2,2009.3 L434.2,2025.7 L436.2,2037.1 L437.2,2041.4 L438.7,2045.8 L440.7,2050.4 L442.7,2053.9 L444.2,2055.2 L445.7,2057.7 L446.7,2058.0 L448.7,2059.7 L451.7,2059.8 L453.2,2061.0 L454.7,2059.5 L455.7,2059.5 L457.2,2061.1 L458.7,2061.5 L459.7,2061.4 L461.2,2060.8 L464.2,2061.2 L468.2,2060.8 L468.7,2061.1 L470.2,2061.3 L471.2,2060.9 L472.2,2060.2 L472.7,2060.1 L473.7,2060.5 L474.2,2060.1 L474.7,2059.2 L476.2,2054.0 L477.2,2048.1 L480.7,2008.6 L481.7,2000.9 L482.2,1999.0 L482.7,1998.1 L483.2,1998.4 L483.7,2000.7 L487.2,2029.8 L489.2,2042.5 L490.2,2047.0 L492.7,2053.6 L494.7,2056.5 L496.2,2056.8 L497.7,2058.8 L498.7,2058.6 L499.7,2059.0 L502.2,2058.7 L503.7,2059.2 L505.2,2059.1 L507.2,2059.4 L508.7,2058.7 L509.2,2058.8 L510.2,2059.5 L510.7,2059.4 L511.7,2058.2 L513.2,2057.4 L514.7,2053.8 L515.7,2049.6 L517.2,2035.4 L518.7,2008.2 L522.2,1931.7 L523.2,1920.4 L524.0,1917.2 L524.2,1917.2 L524.7,1918.7 L525.7,1928.0 L530.2,1996.4 L531.7,2013.9 L533.2,2027.1 L534.7,2036.3 L536.2,2043.4 L539.2,2051.1 L541.7,2055.5 L542.7,2056.5 L544.2,2057.6 L545.7,2057.7 L548.7,2060.2 L550.2,2059.9 L552.7,2060.0 L554.2,2059.1 L555.2,2059.3 L556.7,2058.6 L560.7,2058.0 L561.7,2058.0 L562.2,2057.8 L564.7,2054.9 L566.2,2054.1 L567.7,2051.1 L571.2,2046.7 L571.7,2046.2 L573.2,2045.6 L573.8,2045.0 L574.2,2045.0 L575.2,2046.0 L576.2,2046.5 L579.2,2050.2 L580.7,2051.4 L582.2,2054.4 L582.7,2054.9 L583.2,2055.1 L585.2,2055.4 L585.7,2054.9 L586.2,2054.7 L586.7,2054.8 L587.2,2055.4 L587.7,2055.5 L589.7,2055.3 L591.2,2056.3 L592.7,2056.0 L594.2,2056.6 L595.2,2056.3 L595.7,2055.7 L596.7,2055.2 L597.2,2055.6 L599.7,2056.0 L601.2,2055.9 L602.2,2056.4 L603.7,2056.2 L605.2,2057.4 L606.2,2057.1 L606.7,2057.2 L608.2,2058.6 L610.7,2058.1 L611.7,2058.8 L613.2,2060.4 L613.7,2060.3 L614.7,2059.5 L615.2,2059.4 L617.2,2060.8 L618.7,2060.9 L619.7,2061.4 L621.2,2060.4 L621.7,2060.5 L622.7,2061.4 L623.7,2061.7 L625.2,2061.3 L626.2,2060.4 L626.7,2060.2 L627.7,2060.7 L629.2,2060.5 L630.7,2061.0 L632.2,2060.5 L633.7,2060.9 L634.7,2060.9 L636.2,2059.9 L637.2,2059.8 L638.2,2059.0 L641.7,2057.4 L642.7,2056.0 L643.7,2053.4 L645.2,2050.9 L645.7,2049.6 L647.7,2040.6 L651.2,2027.8 L652.2,2025.3 L653.2,2024.4 L654.2,2024.7 L655.7,2026.2 L656.2,2027.1 L657.2,2029.7 L661.7,2046.1 L664.7,2052.5 L667.7,2056.3 L669.2,2056.6 L669.7,2056.9 L671.2,2056.4 L673.2,2056.2 L674.2,2056.4 L676.7,2056.5 L679.2,2057.8 L681.7,2056.8 L683.2,2056.7 L684.7,2054.4 L685.7,2051.9 L686.7,2048.3 L687.7,2043.3 L689.2,2030.9 L690.7,2011.8 L692.2,1985.1 L693.7,1950.2 L699.7,1778.0 L701.2,1750.8 L702.2,1742.7 L702.7,1741.2 L703.2,1741.1 L704.2,1748.4 L704.7,1755.8 L706.2,1786.2 L711.7,1943.6 L713.2,1978.1 L714.7,2005.2 L716.2,2025.1 L717.2,2035.1 L718.2,2042.5 L720.7,2052.2 L721.2,2053.3 L722.7,2055.3 L724.7,2057.0 L725.2,2057.1 L726.2,2056.8 L729.2,2057.3 L731.2,2056.0 L732.7,2057.1 L735.7,2057.5 L737.7,2057.0 L738.2,2056.4 L739.2,2056.7 L739.7,2057.4 L740.2,2057.4 L740.7,2057.8 L741.2,2057.8 L741.7,2058.2 L742.2,2058.1 L743.2,2058.4 L743.7,2058.4 L744.7,2057.7 L746.2,2057.5 L748.2,2057.7 L750.2,2057.7 L751.7,2058.4 L753.2,2057.6 L754.7,2058.0 L757.2,2058.3 L758.2,2058.2 L759.2,2058.7 L759.7,2058.6 L761.2,2057.5 L762.7,2058.5 L764.2,2058.0 L766.7,2058.9 L768.7,2058.6 L770.2,2058.8 L771.2,2058.5 L772.2,2058.7 L772.7,2058.6 L773.7,2057.6 L777.2,2055.3 L781.7,2047.8 L783.2,2046.7 L784.7,2044.8 L786.2,2044.2 L787.2,2044.6 L788.7,2046.1 L792.7,2052.9 L793.2,2053.1 L794.2,2052.9 L794.7,2053.1 L796.2,2054.7 L797.7,2054.7 L799.2,2056.4 L799.7,2056.6 L801.2,2055.5 L801.7,2055.7 L804.7,2055.2 L805.7,2055.4 L807.2,2055.1 L808.7,2055.1 L812.7,2052.3 L815.2,2048.2 L817.2,2042.3 L818.2,2037.2 L819.7,2026.1 L821.7,2004.6 L824.2,1968.2 L828.2,1892.8 L830.2,1861.7 L831.7,1846.1 L832.7,1841.4 L833.3,1840.2 L833.7,1840.6 L834.7,1845.2 L835.7,1853.3 L836.7,1864.6 L838.7,1896.2 L842.7,1968.5 L844.7,1999.5 L845.7,2012.3 L847.2,2026.7 L848.2,2035.0 L849.2,2040.5 L851.7,2050.2 L854.7,2055.8 L856.2,2056.0 L856.7,2056.6 L857.7,2056.5 L858.2,2055.9 L859.2,2055.7 L861.2,2056.8 L862.7,2056.6 L863.2,2056.8 L864.7,2055.4 L865.2,2055.4 L866.7,2056.7 L868.2,2054.1 L868.7,2054.0 L869.2,2054.3 L869.7,2053.8 L871.7,2050.0 L873.2,2049.8 L875.2,2047.6 L876.7,2044.9 L879.7,2038.0 L880.7,2035.0 L881.7,2030.8 L883.7,2018.6 L886.7,1993.6 L888.7,1970.3 L890.7,1941.2 L897.2,1820.3 L899.2,1787.2 L901.2,1765.0 L902.2,1758.8 L902.6,1758.1 L903.2,1760.4 L903.7,1765.1 L905.2,1797.7 L909.2,1943.6 L911.2,1999.1 L912.2,2017.4 L913.2,2030.4 L914.2,2038.7 L914.7,2041.6 L915.7,2044.9 L917.2,2047.8 L918.7,2049.2 L919.7,2049.5 L920.7,2049.2 L921.2,2049.3 L923.2,2051.1 L924.2,2051.0 L925.7,2051.7 L928.2,2051.2 L929.7,2050.2 L931.7,2049.7 L934.7,2047.5 L936.2,2046.1 L936.7,2046.3 L938.2,2047.5 L939.7,2049.7 L940.7,2050.7 L941.2,2051.6 L942.7,2056.5 L945.2,2059.0 L946.2,2059.5 L946.7,2059.5 L948.2,2058.9 L950.7,2060.2 L952.7,2060.3 L953.7,2061.2 L954.2,2061.1 L955.7,2059.9 L956.7,2060.0 L958.2,2059.1 L959.7,2061.0 L961.2,2059.6 L962.7,2059.3 L965.7,2060.7 L967.7,2059.7 L968.7,2059.6 L970.2,2060.4 L970.7,2060.4 L973.7,2059.2 L974.2,2059.3 L976.2,2060.3 L978.7,2058.8 L979.2,2058.8 L980.7,2060.1 L982.2,2059.0 L984.7,2060.2 L986.2,2060.2 L987.2,2059.7 L987.7,2059.7 L988.7,2060.6 L989.2,2060.7 L990.7,2060.0 L991.2,2060.0 L991.7,2060.1 L992.7,2060.9 L993.2,2060.9 L994.7,2059.8 L997.7,2060.5 L998.7,2060.1 L1000.2,2060.1 L1000.7,2059.8 L1002.2,2057.9 L1002.7,2057.7 L1003.7,2058.3 L1004.2,2058.3 L1005.2,2057.3 L1007.7,2055.9 L1008.2,2055.2 L1009.2,2054.9 L1009.7,2055.1 L1011.2,2053.7 L1012.7,2053.8 L1014.2,2052.8 L1015.2,2052.4 L1016.7,2050.5 L1017.2,2050.4 L1018.2,2049.4 L1018.7,2048.2 L1020.2,2046.5 L1021.2,2044.8 L1023.2,2040.0 L1024.7,2035.1 L1026.7,2026.3 L1028.2,2017.1 L1030.2,2001.4 L1031.2,1991.5 L1034.2,1951.4 L1036.7,1906.9 L1040.2,1830.7 L1044.7,1724.5 L1047.2,1674.5 L1048.7,1650.2 L1049.7,1638.1 L1051.7,1624.1 L1052.2,1622.5 L1052.7,1621.9 L1053.2,1622.5 L1053.7,1623.8 L1054.2,1626.0 L1055.2,1633.7 L1056.7,1650.3 L1058.2,1673.5 L1060.2,1712.8 L1067.7,1888.5 L1071.7,1962.4 L1074.2,1996.3 L1075.7,2011.2 L1078.7,2032.5 L1080.2,2041.0 L1082.2,2048.2 L1085.2,2055.1 L1085.7,2055.5 L1086.7,2055.5 L1087.2,2056.0 L1089.2,2059.0 L1089.7,2059.1 L1090.7,2058.4 L1092.2,2059.9 L1093.7,2059.2 L1095.2,2060.0 L1097.2,2059.4 L1098.2,2059.6 L1098.7,2060.0 L1100.2,2059.8 L1100.7,2060.0 L1101.7,2059.8 L1102.7,2059.3 L1104.7,2059.1 L1105.2,2059.2 L1107.2,2060.9 L1108.7,2060.3 L1110.2,2060.1 L1111.2,2059.4 L1111.7,2059.4 L1113.2,2060.3 L1115.7,2060.0 L1117.2,2059.6 L1118.2,2060.1 L1119.7,2060.0 L1120.2,2060.3 L1121.7,2059.9 L1122.2,2059.9 L1123.7,2060.7 L1125.7,2060.2 L1127.2,2060.3 L1129.2,2059.9 L1131.7,2061.1 L1133.2,2060.1 L1133.7,2060.0 L1134.7,2060.7 L1135.7,2060.6 L1137.2,2061.4 L1138.7,2059.5 L1139.7,2059.3 L1141.2,2059.5 L1142.2,2060.4 L1143.2,2060.8 L1144.2,2060.5 L1144.7,2060.0 L1145.7,2059.5 L1146.7,2060.2 L1147.7,2061.3 L1148.2,2061.3 L1149.2,2060.6 L1150.2,2060.4 L1151.2,2060.4 L1153.2,2061.4 L1153.7,2061.2 L1155.2,2059.4 L1156.7,2059.4 L1158.7,2061.1 L1160.2,2060.0" fill="none" stroke="#000" stroke-width="2.9" stroke-linejoin="round"/>
<text x="133" y="694.3" font-family="Liberation Serif, serif" font-weight="bold" font-size="34" text-anchor="end">0.00</text>
<text x="133" y="544.6" font-family="Liberation Serif, serif" font-weight="bold" font-size="34" text-anchor="end">0.50</text>
<text x="133" y="395.0" font-family="Liberation Serif, serif" font-weight="bold" font-size="34" text-anchor="end">1.00</text>
<text x="133" y="245.3" font-family="Liberation Serif, serif" font-weight="bold" font-size="34" text-anchor="end">1.50</text>
<text x="133" y="95.7" font-family="Liberation Serif, serif" font-weight="bold" font-size="34" text-anchor="end">2.00</text>
<text x="133" y="1397.1" font-family="Liberation Serif, serif" font-weight="bold" font-size="34" text-anchor="end">0.00</text>
<text x="133" y="1272.1" font-family="Liberation Serif, serif" font-weight="bold" font-size="34" text-anchor="end">0.50</text>
<text x="133" y="1147.1" font-family="Liberation Serif, serif" font-weight="bold" font-size="34" text-anchor="end">1.00</text>
<text x="133" y="1022.1" font-family="Liberation Serif, serif" font-weight="bold" font-size="34" text-anchor="end">1.50</text>
<text x="133" y="897.1" font-family="Liberation Serif, serif" font-weight="bold" font-size="34" text-anchor="end">2.00</text>
<text x="133" y="772.1" font-family="Liberation Serif, serif" font-weight="bold" font-size="34" text-anchor="end">2.50</text>
<text x="133" y="2067.0" font-family="Liberation Serif, serif" font-weight="bold" font-size="34" text-anchor="end">0.00</text>
<text x="133" y="1930.8" font-family="Liberation Serif, serif" font-weight="bold" font-size="34" text-anchor="end">0.50</text>
<text x="133" y="1794.6" font-family="Liberation Serif, serif" font-weight="bold" font-size="34" text-anchor="end">1.00</text>
<text x="133" y="1658.4" font-family="Liberation Serif, serif" font-weight="bold" font-size="34" text-anchor="end">1.50</text>
<text x="133" y="1522.2" font-family="Liberation Serif, serif" font-weight="bold" font-size="34" text-anchor="end">2.00</text>
<text x="160.3" y="2176.5" font-family="Liberation Serif, serif" font-weight="bold" font-size="34" text-anchor="middle">0</text>
<text x="285.4" y="2176.5" font-family="Liberation Serif, serif" font-weight="bold" font-size="34" text-anchor="middle">2</text>
<text x="410.5" y="2176.5" font-family="Liberation Serif, serif" font-weight="bold" font-size="34" text-anchor="middle">4</text>
<text x="535.6" y="2176.5" font-family="Liberation Serif, serif" font-weight="bold" font-size="34" text-anchor="middle">6</text>
<text x="660.7" y="2176.5" font-family="Liberation Serif, serif" font-weight="bold" font-size="34" text-anchor="middle">8</text>
<text x="785.8" y="2176.5" font-family="Liberation Serif, serif" font-weight="bold" font-size="34" text-anchor="middle">10</text>
<text x="910.9" y="2176.5" font-family="Liberation Serif, serif" font-weight="bold" font-size="34" text-anchor="middle">12</text>
<text x="1036.0" y="2176.5" font-family="Liberation Serif, serif" font-weight="bold" font-size="34" text-anchor="middle">14</text>
<text x="1161.1" y="2176.5" font-family="Liberation Serif, serif" font-weight="bold" font-size="34" text-anchor="middle">16</text>
<text transform="translate(54.0,476.5) rotate(-90) scale(1,1.06)" font-family="Liberation Serif, serif" font-weight="bold" font-size="38.9">Counts/10<tspan font-size="26" dy="-17">7</tspan></text>
<text transform="translate(43.4,1228.0) rotate(-90) scale(1,1.06)" font-family="Liberation Serif, serif" font-weight="bold" font-size="38.9">Counts/10<tspan font-size="26" dy="-17">7</tspan></text>
<text transform="translate(43.6,1911.5) rotate(-90) scale(1,1.06)" font-family="Liberation Serif, serif" font-weight="bold" font-size="38.9">Counts/10<tspan font-size="26" dy="-17">7</tspan></text>
<text x="660" y="2238.5" font-family="Liberation Serif, serif" font-weight="bold" font-size="41" text-anchor="middle"><tspan font-style="italic">t</tspan> /min</text>
<text x="0" y="0" font-family="Liberation Serif, serif" font-size="42.8" transform="translate(288.7,110.1) scale(1.023,1)">Actual plasma</text>
<text x="0" y="0" font-family="Liberation Serif, serif" font-size="42.8" transform="translate(277.8,865.7) scale(1.027,1)">Standard solution</text>
<text x="0" y="0" font-family="Liberation Serif, serif" font-size="42.8" transform="translate(287.3,1544.8) scale(1.029,1)">Spiked plasma</text>
<text x="0" y="0" font-family="Liberation Serif, serif" font-size="41.8" transform="translate(287.3,1924.4) scale(1.02,1)">NE</text>
<text x="0" y="0" font-family="Liberation Serif, serif" font-size="41.8" transform="translate(340.6,1902.6) scale(1.02,1)">E</text>
<text x="0" y="0" font-family="Liberation Serif, serif" font-size="41.8" transform="translate(361.7,1837.9) scale(1.02,1)">IS</text>
<text x="0" y="0" font-family="Liberation Serif, serif" font-size="41.8" transform="translate(413.3,1814.6) scale(1.02,1)">NMN</text>
<text x="0" y="0" font-family="Liberation Serif, serif" font-size="41.8" transform="translate(453.9,1972.2) scale(1.02,1)">DA</text>
<text x="0" y="0" font-family="Liberation Serif, serif" font-size="41.8" transform="translate(512.4,1887.7) scale(1.02,1)">MN</text>
</svg>
</body></html>
